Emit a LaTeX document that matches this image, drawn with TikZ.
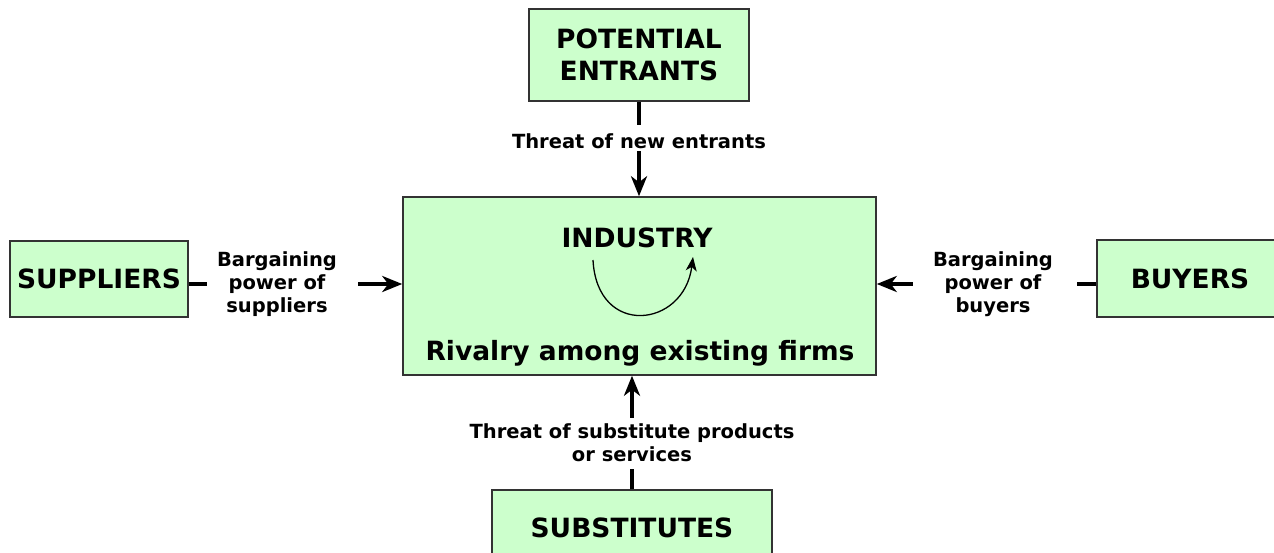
\documentclass[tikz,border=0pt]{standalone}
\usepackage{fontspec}
\setmainfont{DejaVu Sans}
\usetikzlibrary{arrows.meta}
\definecolor{boxfill}{HTML}{CCFFCC}
\definecolor{boxline}{HTML}{333333}
\begin{document}
\begin{tikzpicture}[x=1pt,y=-1pt,
  force/.style={draw=boxline, line width=1.5pt, fill=boxfill, inner sep=0pt,
    font=\fontsize{26.5}{32}\selectfont\bfseries, align=center},
  bigtext/.style={inner sep=0pt, font=\fontsize{26.5}{32}\selectfont\bfseries},
  lbl/.style={inner sep=0pt, font=\fontsize{19.5}{23}\selectfont\bfseries, align=center},
  link/.style={line width=4pt},
  push/.style={line width=4pt, -{Stealth[length=20pt,width=16pt,inset=6pt]}},
  turn/.style={line width=1.3pt, -{Stealth[length=14pt,width=11pt,inset=4pt]}}]
\useasboundingbox (0,0) rectangle (1274,552);

% the five forces
\node[force, minimum width=220pt, minimum height=92pt] (pe) at (639,55) {POTENTIAL\\ENTRANTS};
\node[force, minimum width=473pt, minimum height=178pt] (ind) at (639.5,286) {};
\node[force, minimum width=178pt, minimum height=76pt] (sup) at (99,279) {SUPPLIERS};
\node[force, minimum width=186pt, minimum height=77pt] (buy) at (1190,278.5) {BUYERS};
\node[force, minimum width=280pt, minimum height=76pt] (sub) at (632,528) {SUBSTITUTES};

% texts inside the industry box
\node[bigtext, anchor=base] (indt) at (637,247) {INDUSTRY};
\node[bigtext, anchor=base] (riv) at (640,360) {Rivalry among existing firms};
\coordinate (rs) at (593,260);
\coordinate (re) at (693,257);
\draw[turn] (rs) .. controls (597,338) and (684,328) .. (re);

% labels of the forces
\node[lbl] (tne) at (639,141.5) {Threat of new entrants};
\node[lbl] (supl) at (277,284) {Bargaining\\power of\\suppliers};
\node[lbl] (buyl) at (993,284) {Bargaining\\power of\\buyers};
\node[lbl] (subl) at (632,443) {Threat of substitute products\\or services};

% connectors
\draw[link, shorten >=9pt] (pe.south) -- (pe.south |- tne.north);
\draw[push, shorten <=2pt] (tne.south) -- (tne.south |- ind.north);

\draw[link, shorten >=10pt] (sup.east |- supl) -- (supl.west);
\draw[push, shorten <=21pt] (supl.east) -- (supl.east -| ind.west);

\draw[link, shorten >=24pt] (buy.west |- buyl) -- (buyl.east);
\draw[push, shorten <=20pt] (buyl.west) -- (buyl.west -| ind.east);

\draw[link, shorten >=7pt] (sub.north) -- (sub.north |- subl.south);
\draw[push, shorten <=6pt] (subl.north) -- (subl.north |- ind.south);
\end{tikzpicture}
\end{document}
